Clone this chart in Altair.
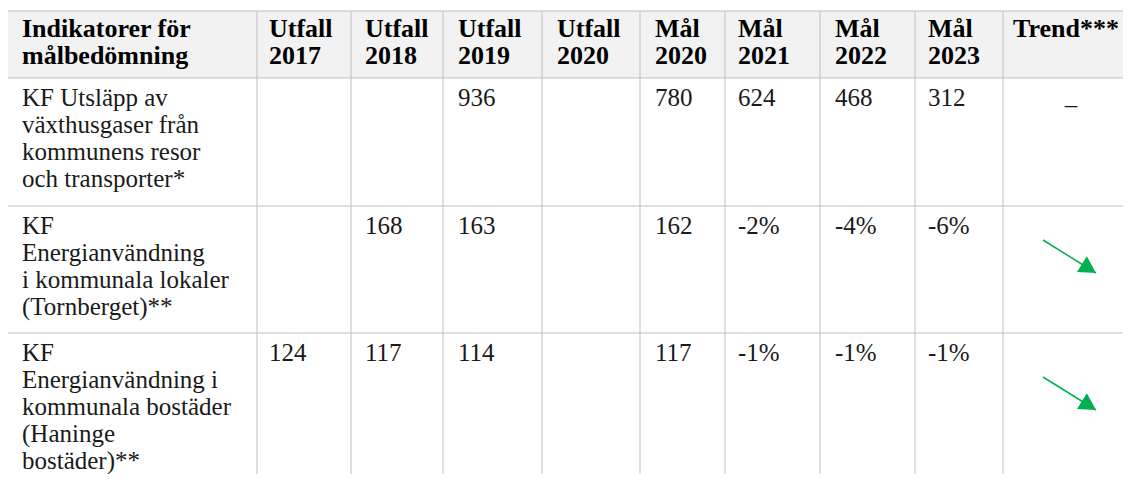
import altair as alt
import pandas as pd

# ---------------- data (table content) ----------------
headers = ["Indikatorer för\nmålbedömning", "Utfall\n2017", "Utfall\n2018", "Utfall\n2019",
           "Utfall\n2020", "Mål\n2020", "Mål\n2021", "Mål\n2022", "Mål\n2023", "Trend***"]
indicators = [
    "KF Utsläpp av\nväxthusgaser från\nkommunens resor\noch transporter*",
    "KF\nEnergianvändning\ni kommunala lokaler\n(Tornberget)**",
    "KF\nEnergianvändning i\nkommunala bostäder\n(Haninge\nbostäder)**",
]
utfall_2017 = ["", "", "124"]
utfall_2018 = ["", "168", "117"]
utfall_2019 = ["936", "163", "114"]
utfall_2020 = ["", "", ""]
mal_2020 = ["780", "162", "117"]
mal_2021 = ["624", "-2%", "-1%"]
mal_2022 = ["468", "-4%", "\u00a0-1%"]
mal_2023 = ["312", "-6%", "-1%"]
trend = ["flat", "down", "down"]   # flat -> dash, down -> green arrow

# ---------------- layout (page pixels) ----------------
OFF = 8
W, H = 1115, 466
col_edges = [7, 257, 351, 443, 542, 640, 725, 820, 915, 1003, 1140]
text_x = [22, 269, 365, 458, 557, 655, 738, 835, 928, 1013]
row_tops = [78, 206, 333]
table_top = 11
header_base = 37
row_base_off = 28
LH = 27
arrow_start = [None, (1043, 240), (1043, 377)]
arrow_vec = (53, 33)
dash_pos = (1071, 113)
GRID = "#bfbfbf"
GREEN = "#00B050"
FONT = "Liberation Serif"
FS = 25
FS_HEAD = 26


def cx(v):
    return v - OFF


def cy(v):
    return v - OFF


xs = alt.Scale(domain=[0, W], nice=False, zero=False)
ys = alt.Scale(domain=[H, 0], nice=False, zero=False)

# header background
bg_df = pd.DataFrame({"x": [cx(col_edges[0])], "x2": [W], "y": [cy(table_top)], "y2": [cy(row_tops[0])]})
bg = alt.Chart(bg_df).mark_rect(color="#f2f2f2").encode(
    x=alt.X("x:Q", scale=xs, axis=None), x2="x2:Q",
    y=alt.Y("y:Q", scale=ys, axis=None), y2="y2:Q")

# horizontal grid lines
h_df = pd.DataFrame({"y": [cy(v) for v in [table_top] + row_tops],
                     "x": cx(col_edges[0]), "x2": W})
hlines = alt.Chart(h_df).mark_rule(color=GRID, strokeWidth=1).encode(
    x=alt.X("x:Q", scale=xs, axis=None), x2="x2:Q",
    y=alt.Y("y:Q", scale=ys, axis=None))

# vertical grid lines
v_df = pd.DataFrame({"x": [cx(v) for v in col_edges[1:-1]], "y": cy(table_top), "y2": H})
vlines = alt.Chart(v_df).mark_rule(color=GRID, strokeWidth=1).encode(
    x=alt.X("x:Q", scale=xs, axis=None),
    y=alt.Y("y:Q", scale=ys, axis=None), y2="y2:Q")

# header text
hd_df = pd.DataFrame({"x": [cx(v) for v in text_x], "y": cy(header_base), "t": headers})
htext = alt.Chart(hd_df).mark_text(
    align="left", baseline="alphabetic", font=FONT, fontSize=FS_HEAD, fontWeight="bold",
    lineBreak="\n", lineHeight=LH, color="#000000").encode(
    x=alt.X("x:Q", scale=xs, axis=None), y=alt.Y("y:Q", scale=ys, axis=None), text="t:N")

# body text
columns = [indicators, utfall_2017, utfall_2018, utfall_2019, utfall_2020,
           mal_2020, mal_2021, mal_2022, mal_2023]
rows = []
for ci, col in enumerate(columns):
    for ri, val in enumerate(col):
        if val:
            rows.append({"x": cx(text_x[ci]), "y": cy(row_tops[ri] + row_base_off), "t": val})
body_df = pd.DataFrame(rows)
btext = alt.Chart(body_df).mark_text(
    align="left", baseline="alphabetic", font=FONT, fontSize=FS,
    lineBreak="\n", lineHeight=LH, color="#1a1a1a").encode(
    x=alt.X("x:Q", scale=xs, axis=None), y=alt.Y("y:Q", scale=ys, axis=None), text="t:N")

# trend markers
dash_rows, arrow_rows = [], []
for ri, tr in enumerate(trend):
    if tr == "flat":
        dash_rows.append({"x": cx(dash_pos[0]), "y": cy(dash_pos[1]), "t": "\u2013"})
    elif tr == "down":
        sx, sy = arrow_start[ri]
        arrow_rows.append({"x": cx(sx), "y": cy(sy),
                           "x2": cx(sx + arrow_vec[0]), "y2": cy(sy + arrow_vec[1])})
dash = alt.Chart(pd.DataFrame(dash_rows)).mark_text(
    align="center", baseline="alphabetic", font=FONT, fontSize=FS, color="#1a1a1a").encode(
    x=alt.X("x:Q", scale=xs, axis=None), y=alt.Y("y:Q", scale=ys, axis=None), text="t:N")

arr_df = pd.DataFrame(arrow_rows)
shaft = alt.Chart(arr_df).mark_rule(color=GREEN, strokeWidth=1.5).encode(
    x=alt.X("x:Q", scale=xs, axis=None), y=alt.Y("y:Q", scale=ys, axis=None),
    x2="x2:Q", y2="y2:Q")
head = alt.Chart(arr_df).mark_point(
    shape="M0,0L-1,-0.56L-1,0.56Z", filled=True, color=GREEN, opacity=1,
    size=1100, angle=32, strokeWidth=0).encode(
    x=alt.X("x2:Q", scale=xs, axis=None), y=alt.Y("y2:Q", scale=ys, axis=None))

chart = alt.layer(bg, hlines, vlines, htext, btext, dash, shaft, head).properties(
    width=W, height=H, padding=0, autosize=alt.AutoSizeParams(type="none")
).configure_view(stroke=None)

chart.save("out.html", embed_options={"renderer": "svg", "actions": False})
